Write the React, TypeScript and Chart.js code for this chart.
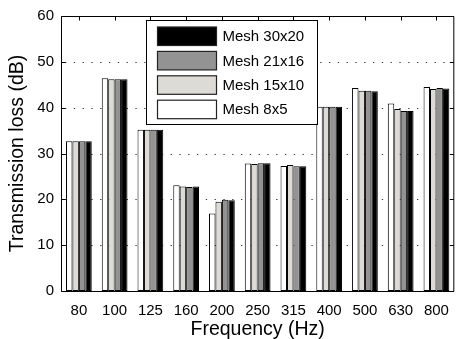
import React, { useEffect, useRef } from "react";
import { Chart, registerables } from "chart.js";

Chart.register(...registerables);

const categories = ["80", "100", "125", "160", "200", "250", "315", "400", "500", "630", "800"];
const mesh8x5 = [32.7, 46.4, 35.2, 23.1, 16.9, 27.8, 27.3, 40.2, 44.3, 40.9, 44.5];
const mesh15x10 = [32.7, 46.2, 35.2, 22.8, 19.5, 27.7, 27.5, 40.2, 43.7, 39.7, 44.1];
const mesh21x16 = [32.7, 46.2, 35.2, 22.7, 19.9, 27.9, 27.2, 40.2, 43.7, 39.3, 44.3];
const mesh30x20 = [32.7, 46.2, 35.2, 22.8, 19.8, 27.9, 27.2, 40.2, 43.6, 39.3, 44.2];
const seriesLabels = ["Mesh 8x5", "Mesh 15x10", "Mesh 21x16", "Mesh 30x20"];
const seriesColors = ["#ffffff", "#dcdbd6", "#939393", "#000000"];
const yTicks = [0, 10, 20, 30, 40, 50, 60];

const FONT = "'Liberation Sans', Arial, Helvetica, sans-serif";

const framePlugin = {
  id: "frame",
  beforeDatasetsDraw(chart: any) {
    const { ctx, chartArea, scales } = chart;
    const y = scales.y;
    ctx.save();
    ctx.strokeStyle = "#333";
    ctx.lineWidth = 1;
    ctx.setLineDash([1.3, 7.5]);
    yTicks.forEach((v) => {
      if (v <= 0 || v >= 60) return;
      const py = Math.round(y.getPixelForValue(v)) + 0.5;
      ctx.beginPath();
      ctx.moveTo(chartArea.left + 4, py);
      ctx.lineTo(chartArea.right, py);
      ctx.stroke();
    });
    ctx.restore();
  },
  afterDatasetsDraw(chart: any) {
    const { ctx, chartArea, scales } = chart;
    const x = scales.x;
    const y = scales.y;
    const L = chartArea.left + 0.5;
    const R = chartArea.right - 0.5;
    const T = chartArea.top + 0.5;
    const B = chartArea.bottom + 0.5;
    ctx.save();
    ctx.strokeStyle = "#000";
    ctx.lineWidth = 1;
    ctx.setLineDash([]);
    ctx.beginPath();
    ctx.moveTo(L, T);
    ctx.lineTo(R, T);
    ctx.lineTo(R, B);
    ctx.lineTo(L, B);
    ctx.closePath();
    ctx.stroke();
    // inward ticks
    ctx.beginPath();
    categories.forEach((_, i) => {
      const px = Math.round(x.getPixelForValue(i)) + 0.5;
      ctx.moveTo(px, T);
      ctx.lineTo(px, T + 4);
    });
    yTicks.forEach((v) => {
      const py = Math.round(y.getPixelForValue(v)) + 0.5;
      ctx.moveTo(L, py);
      ctx.lineTo(L + 4, py);
      ctx.moveTo(R, py);
      ctx.lineTo(R - 4, py);
    });
    ctx.stroke();

    // legend
    const bx = 146.5, by = 20.5, bw = 171, bh = 104;
    ctx.fillStyle = "#fff";
    ctx.fillRect(bx, by, bw, bh);
    ctx.strokeStyle = "#000";
    ctx.strokeRect(bx, by, bw, bh);
    const ds = chart.data.datasets.slice().reverse();
    ctx.font = `15px ${FONT}`;
    ctx.textBaseline = "middle";
    ctx.textAlign = "left";
    ds.forEach((d: any, i: number) => {
      const sy = 27 + i * 24.4;
      ctx.fillStyle = d.backgroundColor;
      ctx.fillRect(157.5, sy, 59, 18.5);
      ctx.strokeStyle = "#222";
      ctx.lineWidth = 1.2;
      ctx.strokeRect(157.5, sy, 59, 18.5);
      ctx.fillStyle = "#000";
      ctx.fillText(d.label, 222.5, sy + 10);
    });
    ctx.restore();
  },
};

export default function App() {
  const ref = useRef<HTMLCanvasElement>(null);
  useEffect(() => {
    if (!ref.current) return;
    const chart = new Chart(ref.current, {
      type: "bar",
      data: {
        labels: categories,
        datasets: [mesh8x5, mesh15x10, mesh21x16, mesh30x20].map((d, i) => ({
          label: seriesLabels[i],
          data: d,
          backgroundColor: seriesColors[i],
          borderColor: "#000",
          borderWidth: 1,
          borderSkipped: false,
          categoryPercentage: 0.72,
          barPercentage: 1.0,
        })),
      },
      options: {
        responsive: false,
        animation: false,
        layout: { padding: { top: 16, right: 1, left: 0, bottom: 0 } },
        plugins: { legend: { display: false }, tooltip: { enabled: false } },
        scales: {
          x: {
            offset: true,
            grid: { display: false, drawTicks: false },
            border: { display: false },
            ticks: { color: "#000", font: { family: FONT, size: 15 }, padding: 11, maxRotation: 0, autoSkip: false },
            title: { display: true, text: "Frequency (Hz)", color: "#000", font: { family: FONT, size: 19.5 }, padding: { top: 0, bottom: -2 } },
            afterFit(scale: any) { scale.height = 48; },
          },
          y: {
            min: 0,
            max: 60,
            grid: { display: false, drawTicks: false },
            border: { display: false },
            ticks: { stepSize: 10, color: "#000", font: { family: FONT, size: 15 }, padding: 7 },
            title: { display: true, text: "Transmission loss (dB)", color: "#000", font: { family: FONT, size: 19.5 }, padding: { top: 6, bottom: 0 } },
            afterFit(scale: any) { scale.width = 61; },
          },
        },
      },
      plugins: [framePlugin],
    });
    return () => chart.destroy();
  }, []);
  return (
    <div style={{ position: "fixed", left: 0, top: 0, width: 460, height: 339, background: "#fff" }}>
      <canvas ref={ref} width={460} height={339} style={{ display: "block" }} />
    </div>
  );
}
